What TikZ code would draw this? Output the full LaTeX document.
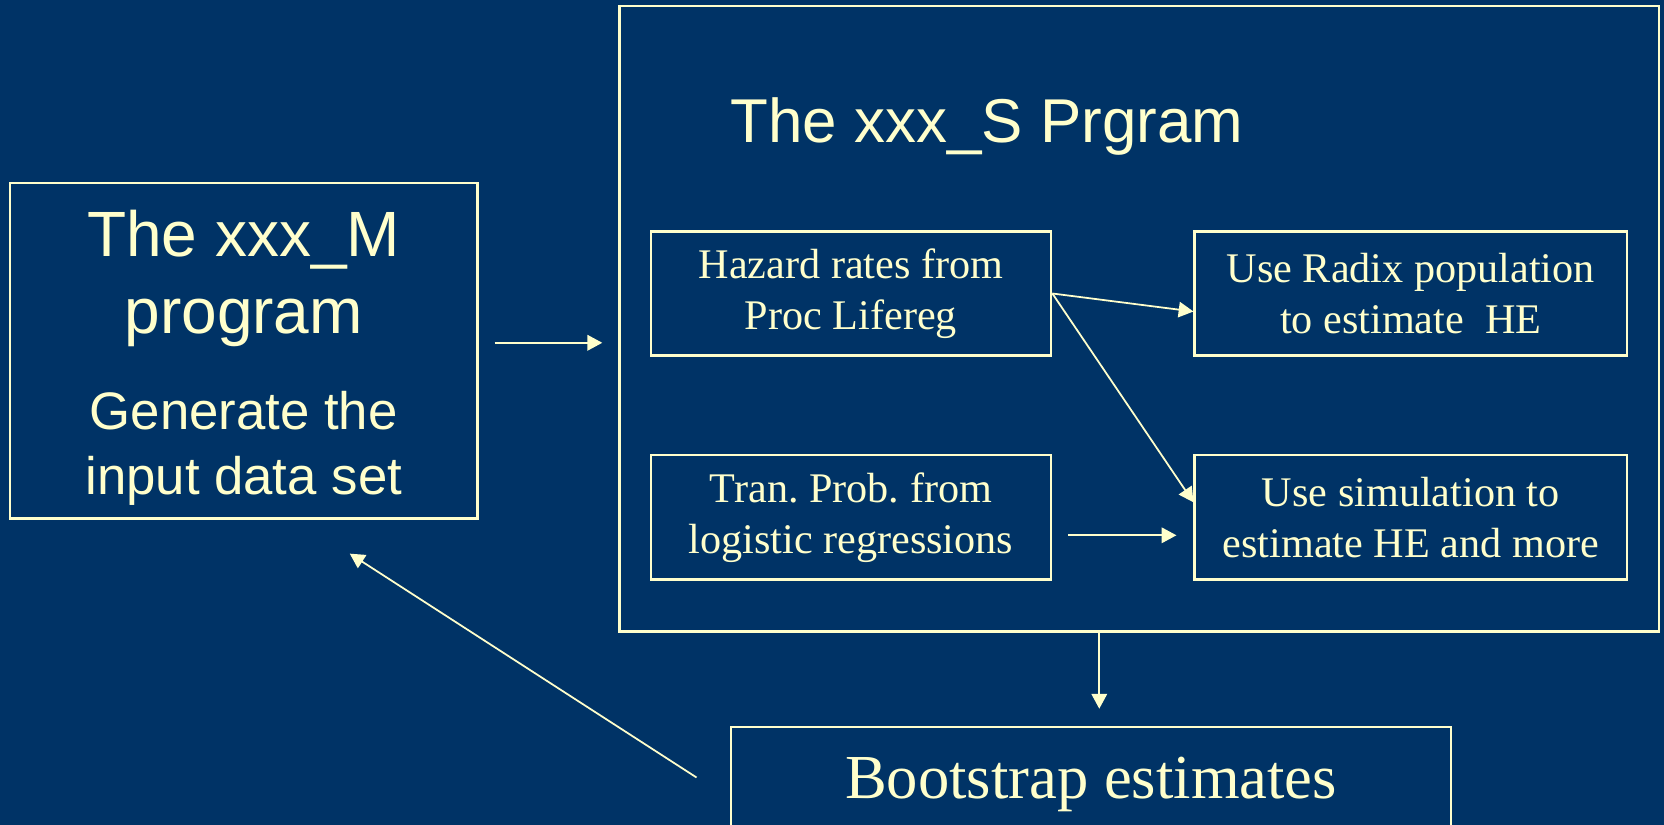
\documentclass[tikz,border=0pt]{standalone}
\usepackage{fontspec}
\setmainfont{Liberation Serif}
\setsansfont{Liberation Sans}
\usetikzlibrary{arrows.meta,positioning}
\definecolor{slidebg}{HTML}{003366}
\definecolor{chalk}{HTML}{FFFFCC}
\frenchspacing

\begin{document}
\begin{tikzpicture}[x=0.01cm,y=-0.01cm,
    box/.style={draw=chalk,line width=0.7pt,inner sep=0pt,align=center,text=chalk},
    link/.style={draw=chalk,line width=0.5pt,-{Triangle[length=4.2pt,width=4.4pt]}},
    label/.style={text=chalk,inner sep=0pt,anchor=base},
    small/.style={font=\fontsize{12}{14.5}\selectfont}]
  \fill[slidebg] (0,0) rectangle (1664,825);
  \useasboundingbox (0,0) rectangle (1664,825);
  % left program
  \node[box,minimum width=4.67cm,minimum height=3.35cm] (mprog) at (243.7,350.8) {};
  \node[label,font=\sffamily\fontsize{18.2}{22}\selectfont] (mtitle) at (243.7,257) {The xxx\_M};
  \node[label,font=\sffamily\fontsize{18.2}{22}\selectfont] (mname) at (243.7,334) {program};
  \node[label,font=\sffamily\fontsize{15}{18}\selectfont] (mgen) at (243.7,430) {Generate the};
  \node[label,font=\sffamily\fontsize{15}{18}\selectfont] (mdata) at (243.7,495) {input data set};
  % right program
  \node[box,minimum width=10.39cm,minimum height=6.25cm] (sprog) at (1139.3,318.7) {};
  \node[label,anchor=base west,font=\sffamily\fontsize{17.6}{20}\selectfont] (stitle) at (730,143) {The xxx\_S Prgram};
  \node[box,small,minimum width=4.0cm,minimum height=1.24cm] (haz) at (851,293.5) {Hazard rates from\\Proc Lifereg};
  \node[box,small,minimum width=4.32cm,minimum height=1.24cm] (rad) at (1410.8,293.5) {Use Radix population\\to estimate\ \ HE};
  \node[box,small,minimum width=4.0cm,minimum height=1.24cm] (tran) at (851,517.3) {Tran. Prob. from\\logistic regressions};
  \node[box,small,minimum width=4.32cm,minimum height=1.24cm] (sim) at (1410.8,517.3) {Use simulation to\\estimate HE and more};
  % bottom
  \node[box,text depth=0pt,minimum width=7.2cm,minimum height=1.01cm,font=\fontsize{17.8}{20}\selectfont] (boot) at (1091,777.5) {Bootstrap estimates};
  % connectors
  \coordinate (mout) at ([shift={(0.16cm,0.08cm)}]mprog.east);
  \draw[link] (mout) -- ([xshift=-0.16cm]mout -| sprog.west);
  \draw[link] (haz.east) -- ([yshift=-0.18cm]rad.west);
  \draw[link] (haz.east) -- ([yshift=0.15cm]sim.west);
  \draw[link] ([shift={(0.16cm,-0.18cm)}]tran.east) -- ([shift={(-0.17cm,-0.18cm)}]sim.west);
  \draw[link] ([xshift=-0.4cm]sprog.south) -- ([xshift=-0.4cm,yshift=0.17cm]sprog.south |- boot.north);
  \draw[link] ([xshift=-0.33cm]boot.west) -- ([shift={(1.06cm,-0.34cm)}]mprog.south);
\end{tikzpicture}
\end{document}
